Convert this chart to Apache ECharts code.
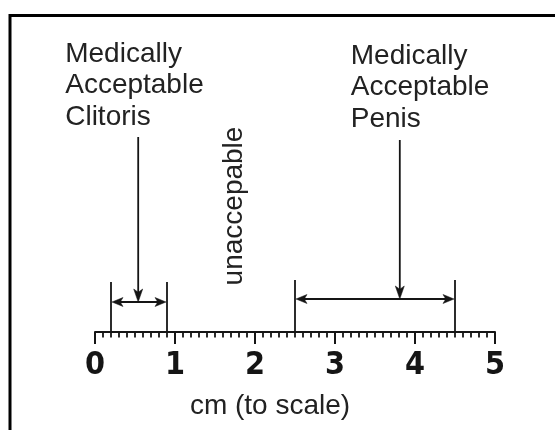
<!DOCTYPE html>
<html><head><meta charset="utf-8">
<script src="https://cdn.jsdelivr.net/npm/echarts@6/dist/echarts.min.js"></script>
<style>html,body{margin:0;padding:0;background:#fff}#c{width:555px;height:430px}</style>
</head><body><div id="c"></div>
<script>
// ---- data ----
const tickLabels = ['0', '1', '2', '3', '4', '5'];
const axisMin = 0;
const axisMax = 5;
const rangeLabels = ['Medically\nAcceptable\nClitoris', 'Medically\nAcceptable\nPenis'];
const rangeStart = [0.2, 2.5];
const rangeEnd = [0.9, 4.5];
const pointerAt = [0.54, 3.81];
const gapLabel = 'unaccepable';
const gapAt = 1.74;
const axisTitle = 'cm (to scale)';

// ---- styling (pixel offsets relative to the axis line) ----
const INK = '#151515';
const TXT = '#222';
const FONT = '"Liberation Sans", Arial, Helvetica, sans-serif';
const NARROW = '"Liberation Sans Narrow", "DejaVu Sans Condensed", "Arial Narrow", sans-serif';
const bracketStyle = [
  { top: 50, bar: 30, ptrTop: 195, labelDx: -73, labelTop: 293.5 },
  { top: 52, bar: 33, ptrTop: 192, labelDx: -49, labelTop: 291.5 }
];

function head(x, y, dir, len, half) {
  // barbed filled arrowhead, tip at (x,y)
  const n = len * 0.25;
  if (dir === 'left') return [[x, y], [x + len, y - half], [x + len - n, y], [x + len, y + half]];
  if (dir === 'right') return [[x, y], [x - len, y - half], [x - len + n, y], [x - len, y + half]];
  return [[x, y], [x - half, y - len], [x, y - len + n], [x + half, y - len]];
}

const chart = echarts.init(document.getElementById('c'), null, { renderer: 'canvas' });

const bracketData = rangeStart.map((s, i) => [s, rangeEnd[i], pointerAt[i]]);

const option = {
  backgroundColor: '#fff',
  animation: false,
  grid: { left: 95, right: 60, top: 40, bottom: 98, containLabel: false },
  xAxis: {
    type: 'value', min: axisMin, max: axisMax, interval: 1, position: 'bottom',
    axisLine: { show: true, onZero: false, lineStyle: { color: INK, width: 2 } },
    axisTick: { show: true, length: 12, lineStyle: { color: INK, width: 2 } },
    minorTick: { show: true, splitNumber: 10, length: 5.5, lineStyle: { color: INK, width: 1.8 } },
    splitLine: { show: false }, minorSplitLine: { show: false },
    axisLabel: {
      show: true, showMinLabel: true, showMaxLabel: true, margin: 18,
      formatter: v => tickLabels[Math.round(v - axisMin)],
      fontSize: 32, fontWeight: 'bold', fontFamily: NARROW, color: INK
    }
  },
  yAxis: { type: 'value', min: 0, max: 1, show: false },
  graphic: [
    { type: 'polyline', shape: { points: [[10, 432], [10, 15.5], [557, 15.5]] },
      style: { stroke: '#000', lineWidth: 3, fill: null } },
    { type: 'text', x: 270, y: 406,
      style: { text: axisTitle, fontSize: 28, fontFamily: FONT, fill: TXT, align: 'center', verticalAlign: 'middle' } }
  ],
  series: [
    {
      type: 'custom', clip: false, silent: true,
      data: bracketData,
      renderItem: function (params, api) {
        const st = bracketStyle[params.dataIndex];
        const x0 = api.coord([api.value(0), 0])[0];
        const x1 = api.coord([api.value(1), 0])[0];
        const xm = api.coord([api.value(2), 0])[0];
        const base = api.coord([api.value(0), 0])[1];
        const yb = base - st.bar;
        const line = (a, b, c, d) => ({ type: 'line', shape: { x1: a, y1: b, x2: c, y2: d }, style: { stroke: INK, lineWidth: 1.8 } });
        const poly = pts => ({ type: 'polygon', shape: { points: pts }, style: { fill: INK, stroke: INK, lineWidth: 0.5 } });
        return {
          type: 'group',
          children: [
            line(x0, base - st.top, x0, base),
            line(x1, base - st.top, x1, base),
            line(x0 + 4, yb, x1 - 4, yb),
            poly(head(x0 + 1, yb, 'left', 11, 4.5)),
            poly(head(x1 - 1, yb, 'right', 11, 4.5)),
            line(xm, base - st.ptrTop, xm, yb - 8),
            poly(head(xm, yb, 'down', 13, 4.5)),
            { type: 'text', x: xm + st.labelDx, y: base - st.labelTop,
              style: { text: rangeLabels[params.dataIndex], fontSize: 28, lineHeight: 31.5, fontFamily: FONT,
                       fill: TXT, align: 'left', verticalAlign: 'top' } }
          ]
        };
      }
    },
    {
      type: 'custom', clip: false, silent: true,
      data: [[gapAt]],
      renderItem: function (params, api) {
        const p = api.coord([api.value(0), 0]);
        return { type: 'text', x: p[0], y: p[1] - 126, rotation: Math.PI / 2,
          style: { text: gapLabel, fontSize: 28, fontFamily: FONT, fill: TXT, align: 'center', verticalAlign: 'middle' } };
      }
    }
  ]
};
chart.setOption(option);
</script>
</body></html>
